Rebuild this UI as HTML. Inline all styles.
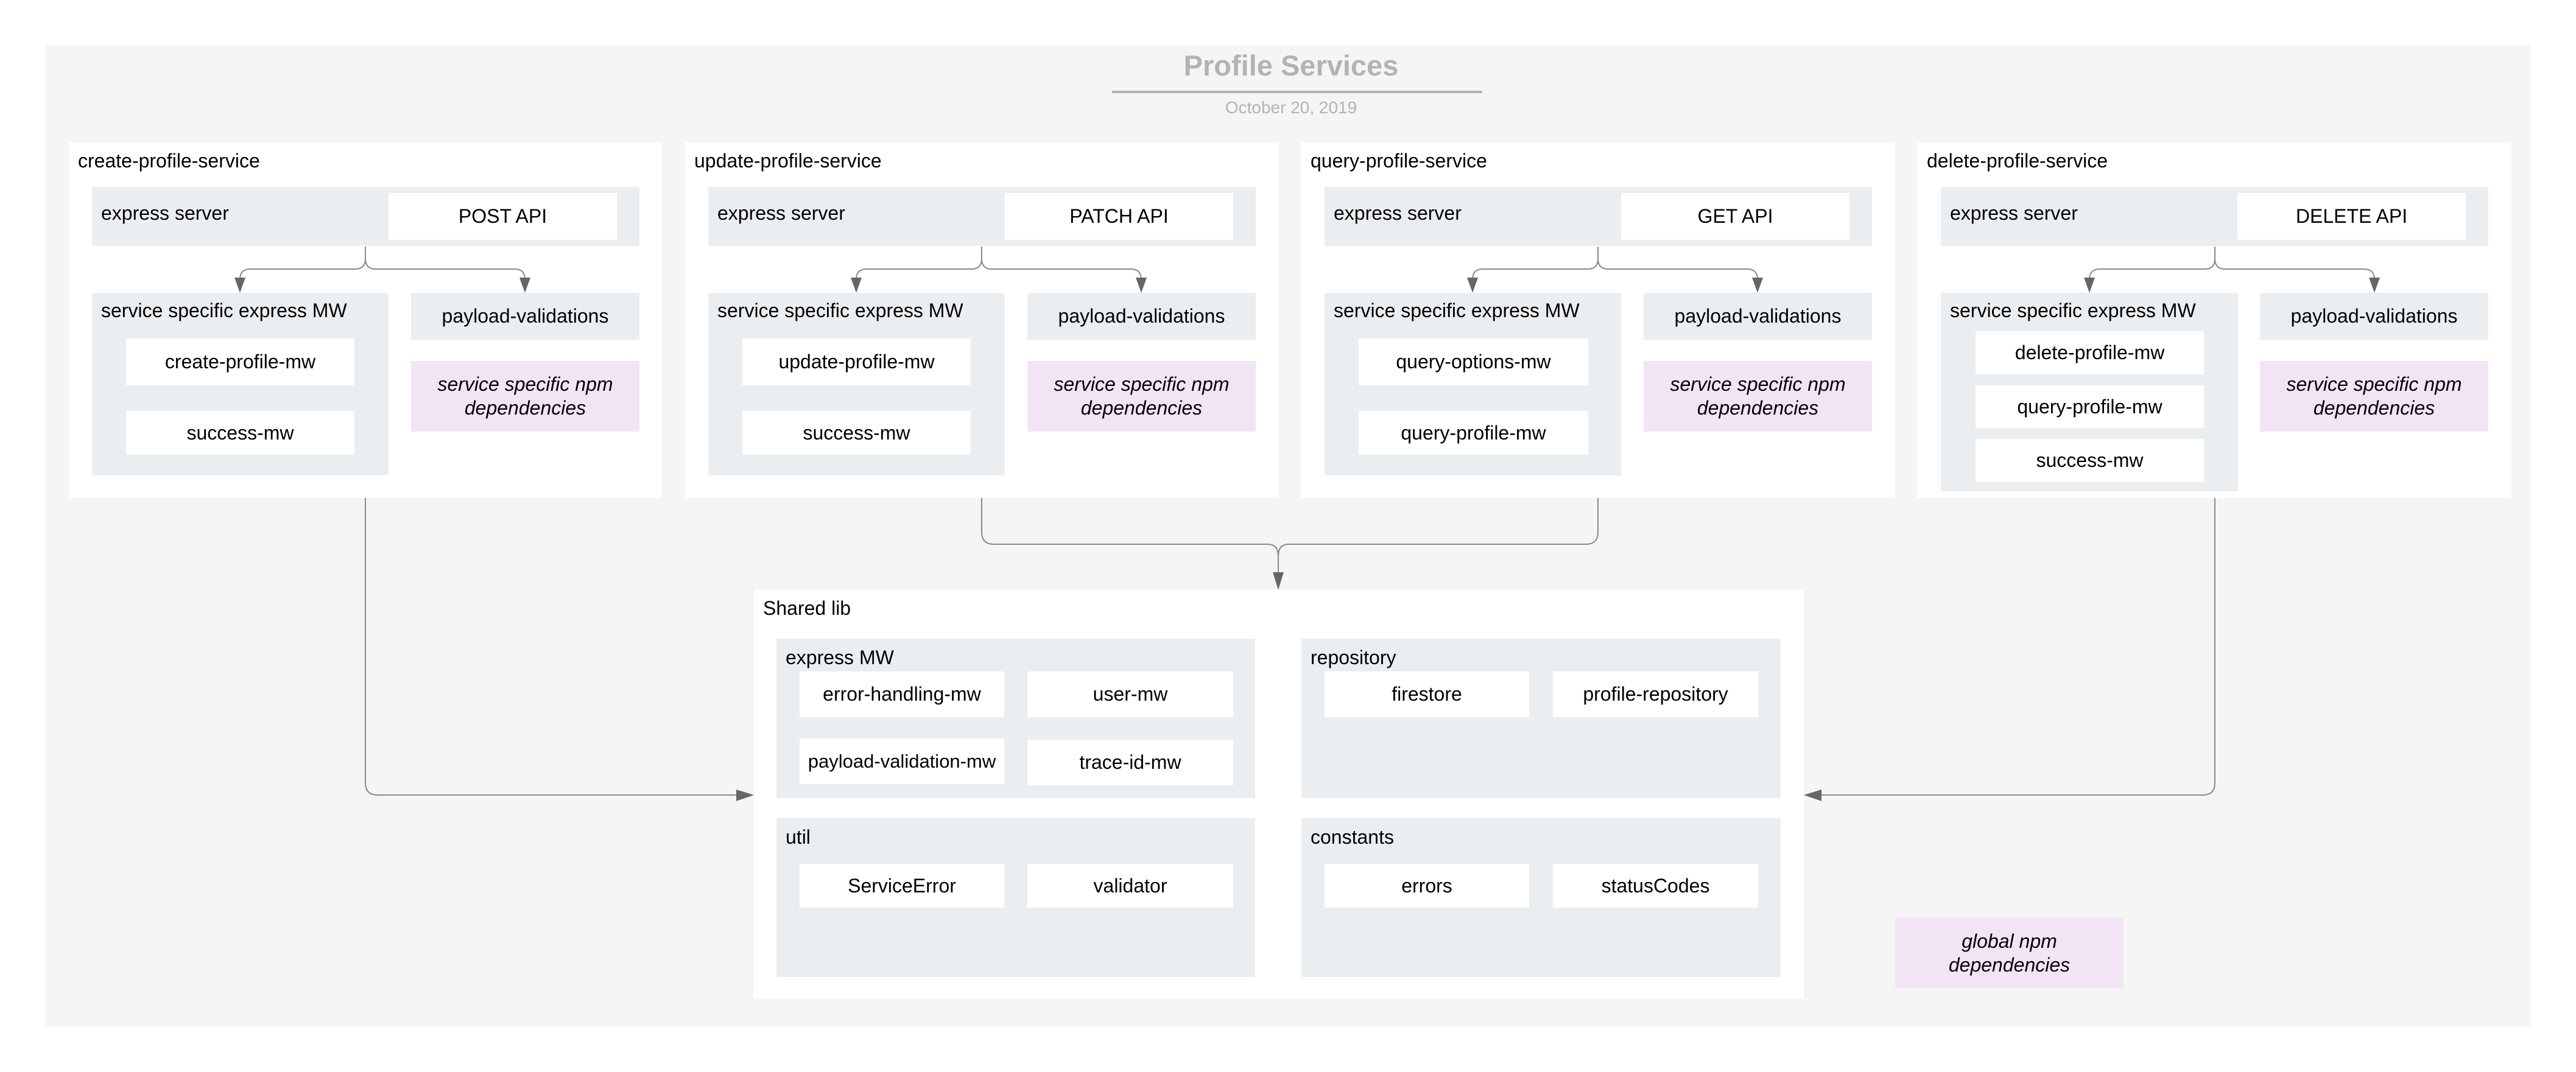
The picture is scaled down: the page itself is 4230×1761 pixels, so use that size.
<!DOCTYPE html>
<html><head><meta charset="utf-8"><style>
*{margin:0;padding:0;box-sizing:border-box}
body{width:4230px;height:1761px;background:#fff;position:relative;overflow:hidden;font-family:"Liberation Sans",Arial,sans-serif;color:#000}
div{position:absolute}
.g{background:#ebeef1}
.w{background:#fff}
.p{background:#f3e4f5;font-style:italic;line-height:39px}
.c{display:flex;align-items:center;justify-content:center;text-align:center;font-size:32px}
.l{font-size:32px;line-height:36px;white-space:nowrap}
</style></head><body>
<div style="left:75px;top:74px;width:4080px;height:1612px;background:#f5f5f5"></div>
<div style="left:1620px;top:80px;width:1000px;text-align:center;font-size:47px;font-weight:bold;color:#b3b3b3;line-height:56px">Profile Services</div>
<div style="left:1826px;top:149px;width:608px;height:4px;background:#b3b3b3"></div>
<div style="left:1620px;top:160px;width:1000px;text-align:center;font-size:28px;color:#b3b3b3;line-height:34px">October 20, 2019</div>

<!-- service 1 -->
<div class="w" style="left:113px;top:234px;width:974px;height:584px"></div>
<div class="l" style="left:128px;top:246px">create-profile-service</div>
<div class="g" style="left:151px;top:307px;width:899px;height:97px"></div>
<div class="l" style="left:166px;top:332px">express server</div>
<div class="w c" style="left:638px;top:317px;width:375px;height:77px">POST API</div>
<div class="g" style="left:151px;top:481px;width:487px;height:300px"></div>
<div class="l" style="left:166px;top:492px">service specific express MW</div>
<div class="w c" style="left:207px;top:556px;width:375px;height:77px">create-profile-mw</div>
<div class="w c" style="left:207px;top:675px;width:375px;height:72px">success-mw</div>
<div class="g c" style="left:675px;top:481px;width:375px;height:77px">payload-validations</div>
<div class="p c" style="left:675px;top:593px;width:375px;height:116px">service specific npm<br>dependencies</div>

<!-- service 2 -->
<div class="w" style="left:1125px;top:234px;width:974px;height:584px"></div>
<div class="l" style="left:1140px;top:246px">update-profile-service</div>
<div class="g" style="left:1163px;top:307px;width:899px;height:97px"></div>
<div class="l" style="left:1178px;top:332px">express server</div>
<div class="w c" style="left:1650px;top:317px;width:375px;height:77px">PATCH API</div>
<div class="g" style="left:1163px;top:481px;width:487px;height:300px"></div>
<div class="l" style="left:1178px;top:492px">service specific express MW</div>
<div class="w c" style="left:1219px;top:556px;width:375px;height:77px">update-profile-mw</div>
<div class="w c" style="left:1219px;top:675px;width:375px;height:72px">success-mw</div>
<div class="g c" style="left:1687px;top:481px;width:375px;height:77px">payload-validations</div>
<div class="p c" style="left:1687px;top:593px;width:375px;height:116px">service specific npm<br>dependencies</div>

<!-- service 3 -->
<div class="w" style="left:2137px;top:234px;width:974px;height:584px"></div>
<div class="l" style="left:2152px;top:246px">query-profile-service</div>
<div class="g" style="left:2175px;top:307px;width:899px;height:97px"></div>
<div class="l" style="left:2190px;top:332px">express server</div>
<div class="w c" style="left:2662px;top:317px;width:375px;height:77px">GET API</div>
<div class="g" style="left:2175px;top:481px;width:487px;height:300px"></div>
<div class="l" style="left:2190px;top:492px">service specific express MW</div>
<div class="w c" style="left:2231px;top:556px;width:377px;height:77px">query-options-mw</div>
<div class="w c" style="left:2231px;top:675px;width:377px;height:72px">query-profile-mw</div>
<div class="g c" style="left:2699px;top:481px;width:375px;height:77px">payload-validations</div>
<div class="p c" style="left:2699px;top:593px;width:375px;height:116px">service specific npm<br>dependencies</div>

<!-- service 4 -->
<div class="w" style="left:3149px;top:234px;width:975px;height:584px"></div>
<div class="l" style="left:3164px;top:246px">delete-profile-service</div>
<div class="g" style="left:3187px;top:307px;width:899px;height:97px"></div>
<div class="l" style="left:3202px;top:332px">express server</div>
<div class="w c" style="left:3674px;top:317px;width:375px;height:77px">DELETE API</div>
<div class="g" style="left:3187px;top:481px;width:488px;height:326px"></div>
<div class="l" style="left:3202px;top:492px">service specific express MW</div>
<div class="w c" style="left:3244px;top:544px;width:375px;height:71px">delete-profile-mw</div>
<div class="w c" style="left:3244px;top:633px;width:375px;height:70px">query-profile-mw</div>
<div class="w c" style="left:3244px;top:721px;width:375px;height:71px">success-mw</div>
<div class="g c" style="left:3711px;top:481px;width:375px;height:77px">payload-validations</div>
<div class="p c" style="left:3711px;top:593px;width:375px;height:116px">service specific npm<br>dependencies</div>

<!-- shared lib -->
<div class="w" style="left:1238px;top:969px;width:1724px;height:672px"></div>
<div class="l" style="left:1253px;top:981px">Shared lib</div>
<div class="g" style="left:1275px;top:1049px;width:786px;height:262px"></div>
<div class="l" style="left:1290px;top:1062px">express MW</div>
<div class="w c" style="left:1313px;top:1103px;width:336px;height:75px">error-handling-mw</div>
<div class="w c" style="left:1687px;top:1103px;width:338px;height:75px">user-mw</div>
<div class="w c" style="left:1313px;top:1213px;width:336px;height:75px;font-size:31px">payload-validation-mw</div>
<div class="w c" style="left:1687px;top:1215px;width:338px;height:75px">trace-id-mw</div>
<div class="g" style="left:2137px;top:1049px;width:787px;height:262px"></div>
<div class="l" style="left:2152px;top:1062px">repository</div>
<div class="w c" style="left:2175px;top:1103px;width:336px;height:75px">firestore</div>
<div class="w c" style="left:2550px;top:1103px;width:337px;height:75px">profile-repository</div>
<div class="g" style="left:1275px;top:1344px;width:786px;height:261px"></div>
<div class="l" style="left:1290px;top:1357px">util</div>
<div class="w c" style="left:1313px;top:1419px;width:336px;height:72px">ServiceError</div>
<div class="w c" style="left:1687px;top:1419px;width:338px;height:72px">validator</div>
<div class="g" style="left:2137px;top:1344px;width:787px;height:261px"></div>
<div class="l" style="left:2152px;top:1357px">constants</div>
<div class="w c" style="left:2175px;top:1419px;width:336px;height:72px">errors</div>
<div class="w c" style="left:2550px;top:1419px;width:337px;height:72px">statusCodes</div>

<div class="p c" style="left:3112px;top:1507px;width:375px;height:117px">global npm<br>dependencies</div>

<svg width="4230" height="1761" style="position:absolute;left:0;top:0" xmlns="http://www.w3.org/2000/svg">
<g fill="none" stroke="#8a8a8a" stroke-width="2">
<path d="M600 405 V425 Q600 442 583 442 H411 Q394 442 394 459 V462"/>
<path d="M600 405 V425 Q600 442 617 442 H845 Q862 442 862 459 V462"/>
<path d="M1612 405 V425 Q1612 442 1595 442 H1423 Q1406 442 1406 459 V462"/>
<path d="M1612 405 V425 Q1612 442 1629 442 H1857 Q1874 442 1874 459 V462"/>
<path d="M2624 405 V425 Q2624 442 2607 442 H2435 Q2418 442 2418 459 V462"/>
<path d="M2624 405 V425 Q2624 442 2641 442 H2869 Q2886 442 2886 459 V462"/>
<path d="M3637 405 V425 Q3637 442 3620 442 H3448 Q3431 442 3431 459 V462"/>
<path d="M3637 405 V425 Q3637 442 3654 442 H3882 Q3899 442 3899 459 V462"/>
<path d="M1612 818 V874 Q1612 894 1632 894 H2082 Q2099 894 2099 914 V942"/>
<path d="M2624 818 V874 Q2624 894 2604 894 H2116 Q2099 894 2099 914"/>
<path d="M600 818 V1286 Q600 1306 620 1306 H1212"/>
<path d="M3637 818 V1286 Q3637 1306 3617 1306 H2988"/>
</g>
<g fill="#666">
<path d="M385 456 H403 L394 481 Z"/><path d="M853 456 H871 L862 481 Z"/>
<path d="M1397 456 H1415 L1406 481 Z"/><path d="M1865 456 H1883 L1874 481 Z"/>
<path d="M2409 456 H2427 L2418 481 Z"/><path d="M2877 456 H2895 L2886 481 Z"/>
<path d="M3422 456 H3440 L3431 481 Z"/><path d="M3890 456 H3908 L3899 481 Z"/>
<path d="M2090 940 H2108 L2099 969 Z"/>
<path d="M1209 1297 V1316 L1238 1306 Z"/>
<path d="M2991 1297 V1316 L2962 1306 Z"/>
</g>
</svg>
</body></html>
